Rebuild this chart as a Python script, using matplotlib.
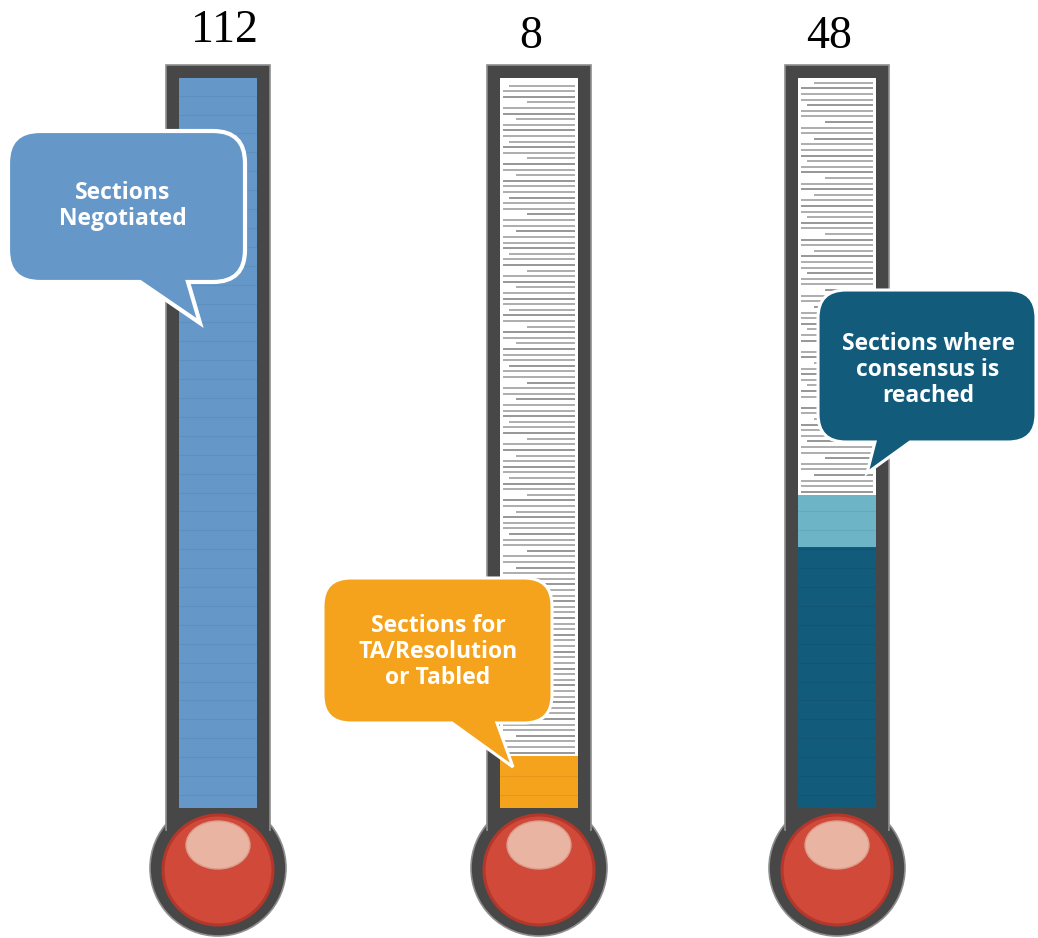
#!/usr/bin/env python3
"""Three thermometers: sections negotiated / tabled / consensus reached."""
import numpy as np
import matplotlib
matplotlib.use("Agg")
import matplotlib.pyplot as plt
from matplotlib.patches import Rectangle, Circle, Ellipse, PathPatch
from matplotlib.path import Path

W, H = 1038, 938

# ---- data -------------------------------------------------------------
TOTAL = 112
COUNT_LABELS = ["112", "8", "48"]
NEGOTIATED = [112]
TABLED = [8]
CONSENSUS = [40, 8]          # reached + lighter band on top
CAPTIONS = ["Sections\nNegotiated",
            "Sections for\nTA/Resolution\nor Tabled",
            "Sections where\nconsensus is\nreached"]

C_BLUE = "#6598C9"
C_ORANGE = "#F5A21D"
C_TEAL = "#135B7B"
C_TEAL_LT = "#6DB4C6"
C_TUBE = "#474747"
C_HALO = "#8f8f8f"

FILLS = [NEGOTIATED, TABLED, CONSENSUS]
FILL_COLORS = [[C_BLUE], [C_ORANGE], [C_TEAL, C_TEAL_LT]]

# ---- layout (pixels) ---------------------------------------------------
CX = [218, 539, 837]
OUT_HALF, IN_HALF = 52, 39
OUT_TOP, IN_TOP, IN_BOT = 65, 78, 808
BULB_Y, BULB_R, RED_Y, RED_R = 868, 68, 870, 55
LABEL_POS = [(224, 42), (531, 48), (829, 48)]

BUBBLES = [  # x0, y0, x1, y1, radius, tail base left, base right, tip
    dict(box=(8, 131, 245, 282), r=32, tail=(140, 188, (200, 323)),
         color=C_BLUE, text=(123, 206), lw=3.0),
    dict(box=(323, 578, 552, 723), r=28, tail=(452, 497, (513, 767)),
         color=C_ORANGE, text=(438, 652), lw=2.2),
    dict(box=(818, 290, 1036, 442), r=28, tail=(875, 910, (867, 473)),
         color=C_TEAL, text=(928, 370), lw=2.2),
]


def bubble_path(box, r, tail):
    x0, y0, x1, y1 = box
    bl, br, tip = tail
    M, L, C, Z = Path.MOVETO, Path.LINETO, Path.CURVE3, Path.CLOSEPOLY
    verts = [(x0 + r, y0), (x1 - r, y0), (x1, y0), (x1, y0 + r),
             (x1, y1 - r), (x1, y1), (x1 - r, y1),
             (br, y1), tip, (bl, y1),
             (x0 + r, y1), (x0, y1), (x0, y1 - r),
             (x0, y0 + r), (x0, y0), (x0 + r, y0), (x0 + r, y0)]
    codes = [M, L, C, C, L, C, C, L, L, L, L, C, C, L, C, C, Z]
    return Path(verts, codes)


fig = plt.figure(figsize=(W / 100, H / 100), dpi=100)

# background: tubes and bulbs
bg = fig.add_axes([0, 0, 1, 1])
bg.set_xlim(0, W); bg.set_ylim(H, 0); bg.axis("off")
for cx in CX:
    bg.add_patch(Circle((cx, BULB_Y), BULB_R, fc=C_TUBE, ec=C_HALO, lw=1.2, zorder=1))
    bg.add_patch(Rectangle((cx - OUT_HALF, OUT_TOP), 2 * OUT_HALF, 830 - OUT_TOP,
                           fc=C_TUBE, ec=C_HALO, lw=1.2, zorder=2))
    bg.add_patch(Rectangle((cx - OUT_HALF + 1, 790), 2 * OUT_HALF - 2, 70,
                           fc=C_TUBE, ec="none", zorder=3))
    bg.add_patch(Rectangle((cx - IN_HALF, IN_TOP), 2 * IN_HALF, IN_BOT - IN_TOP,
                           fc="white", ec="none", zorder=4))
    bg.add_patch(Circle((cx, RED_Y), RED_R, fc="#D04939", ec="#B3372B", lw=2.2, zorder=5))
    bg.add_patch(Ellipse((cx, 845), 64, 48, fc="#EAB4A2", ec="#DC9C89", lw=1.0, zorder=6))

# fills, on their own value scale
for cx, vals, cols in zip(CX, FILLS, FILL_COLORS):
    ax = fig.add_axes([(cx - IN_HALF) / W, 1 - IN_BOT / H, 2 * IN_HALF / W,
                       (IN_BOT - IN_TOP) / H])
    ax.set_xlim(0, 1); ax.set_ylim(0, TOTAL); ax.axis("off")
    bottom = 0
    for v, c in zip(vals, cols):
        ax.bar(0, v, width=1, bottom=bottom, align="edge", color=c, lw=0)
        bottom += v
    # decorative scale stripes in the empty part
    starts = [0.04, 0.04, 0.04, 0.2, 0.04, 0.04, 0.35, 0.04, 0.04, 0.12]
    for i, y in enumerate(np.arange(bottom + 0.5, TOTAL - 0.3, 0.86)):
        ax.hlines(y, starts[i % len(starts)], 0.96,
                  color="#a3a3a3" if i % 3 else "#8a8a8a", lw=1.25)
    # faint texture in the filled part
    for y in np.arange(2.0, bottom - 0.5, 2.9):
        ax.hlines(y, 0, 1, color="black", alpha=0.06, lw=0.8)

# overlay: call-outs and counts
ov = fig.add_axes([0, 0, 1, 1])
ov.set_xlim(0, W); ov.set_ylim(H, 0); ov.axis("off")
for b, cap in zip(BUBBLES, CAPTIONS):
    ov.add_patch(PathPatch(bubble_path(b["box"], b["r"], b["tail"]),
                           fc=b["color"], ec="white", lw=b["lw"], joinstyle="miter"))
    ov.text(*b["text"], cap, ha="center", va="center", color="white",
            family="Open Sans", weight="bold", fontsize=16.5, linespacing=1.12)
for (x, y), lab in zip(LABEL_POS, COUNT_LABELS):
    ov.text(x, y, lab, ha="center", va="baseline", family="Liberation Serif",
            fontsize=33, color="black")

fig.savefig("out.png", dpi=100)
